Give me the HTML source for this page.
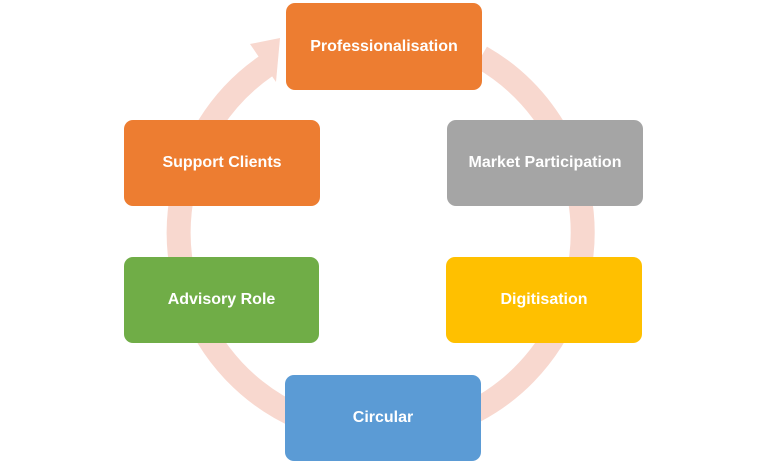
<!DOCTYPE html>
<html><head><style>
html,body{margin:0;padding:0;background:#fff;}
.w{position:relative;width:768px;height:463px;overflow:hidden;font-family:"Liberation Sans",sans-serif;}
.b{position:absolute;border-radius:9px;color:#fff;font-weight:bold;font-size:16px;display:flex;align-items:center;justify-content:center;}
</style></head><body><div class="w">
<svg width="768" height="463" style="position:absolute;left:0;top:0">
<path d="M481 57 A202 202 0 1 1 266 66" fill="none" stroke="#F8D8CF" stroke-width="24"/>
<polygon points="250,44 280,38 276,82" fill="#F8D8CF"/>
</svg>
<div class="b" style="left:286px;top:3px;width:196px;height:87px;background:#ED7D31">Professionalisation</div>
<div class="b" style="left:447px;top:120px;width:196px;height:86px;background:#A5A5A5">Market Participation</div>
<div class="b" style="left:446px;top:257px;width:196px;height:86px;background:#FFC000">Digitisation</div>
<div class="b" style="left:285px;top:375px;width:196px;height:86px;background:#5B9BD5">Circular</div>
<div class="b" style="left:124px;top:257px;width:195px;height:86px;background:#70AD47">Advisory Role</div>
<div class="b" style="left:124px;top:120px;width:196px;height:86px;background:#ED7D31">Support Clients</div>
</div></body></html>
